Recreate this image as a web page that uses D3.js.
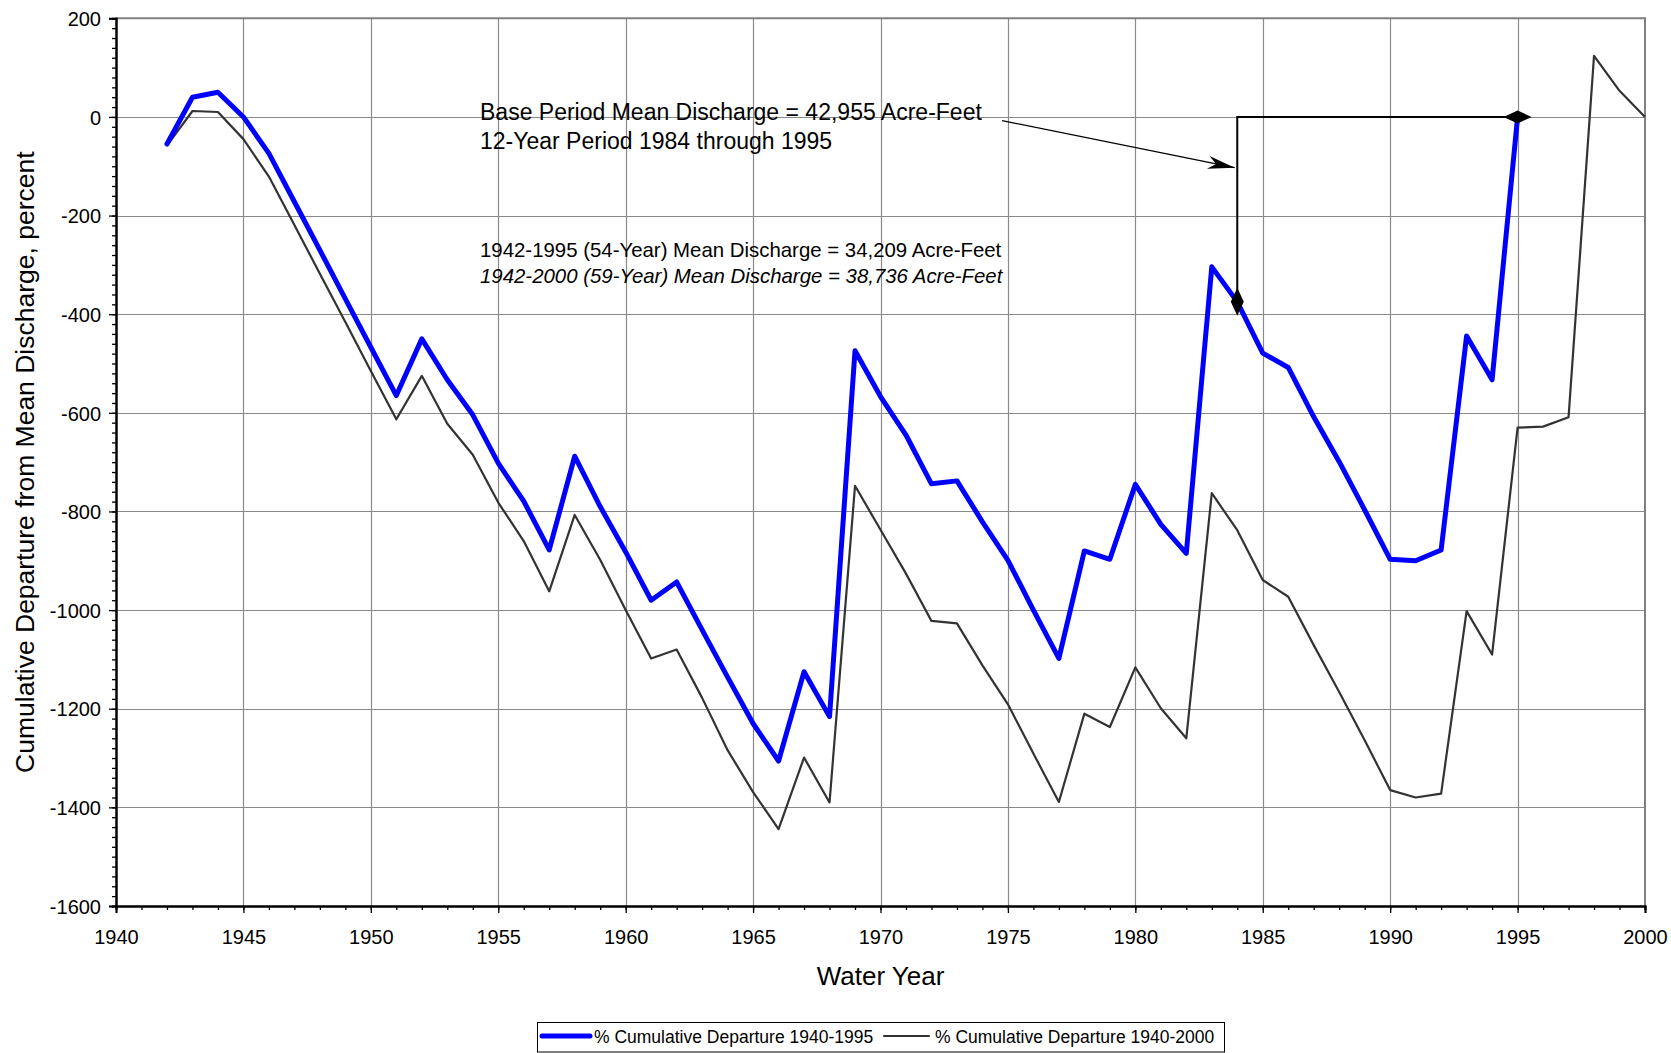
<!DOCTYPE html>
<html>
<head>
<meta charset="utf-8">
<script src="https://cdn.jsdelivr.net/npm/d3@7/dist/d3.min.js"></script>
<style>
body { margin: 0; background: #fff; }
svg { display: block; font-family: "Liberation Sans", Arial, sans-serif; }
</style>
</head>
<body>
<div id="chart"></div>
<script>
var outerWidth = 1671;
var outerHeight = 1053;

// water years and % cumulative departure
var yearsBase = [1942, 1943, 1944, 1945, 1946, 1947, 1948, 1949, 1950, 1951, 1952, 1953, 1954, 1955, 1956, 1957, 1958, 1959,
	1960, 1961, 1962, 1963, 1964, 1965, 1966, 1967, 1968, 1969, 1970, 1971, 1972, 1973, 1974, 1975, 1976, 1977, 1978, 1979,
	1980, 1981, 1982, 1983, 1984, 1985, 1986, 1987, 1988, 1989, 1990, 1991, 1992, 1993, 1994, 1995];
var departure1995 = [-55, 40, 50, 0, -74, -172, -270, -369, -467, -565, -450, -533, -604, -702, -779, -878, -688, -790,
	-882, -980, -943, -1040, -1136, -1230, -1306, -1125, -1216, -474, -567, -645, -744, -738, -821, -899, -1000, -1098, -880, -897,
	-745, -826, -885, -304, -375, -479, -508, -608, -699, -797, -897, -900, -878, -444, -533, 0];

var yearsAll = [1942, 1943, 1944, 1945, 1946, 1947, 1948, 1949, 1950, 1951, 1952, 1953, 1954, 1955, 1956, 1957, 1958, 1959,
	1960, 1961, 1962, 1963, 1964, 1965, 1966, 1967, 1968, 1969, 1970, 1971, 1972, 1973, 1974, 1975, 1976, 1977, 1978, 1979,
	1980, 1981, 1982, 1983, 1984, 1985, 1986, 1987, 1988, 1989, 1990, 1991, 1992, 1993, 1994, 1995, 1996, 1997, 1998, 1999, 2000];
var departure2000 = [-58, 12, 10, -45, -121, -219, -318, -416, -515, -613, -525, -622, -685, -782, -860, -962, -807, -898,
	-1000, -1098, -1080, -1178, -1284, -1369, -1444, -1299, -1390, -748, -837, -926, -1022, -1027, -1112, -1191, -1291, -1389, -1210, -1237,
	-1116, -1199, -1260, -763, -838, -939, -973, -1071, -1166, -1264, -1365, -1380, -1372, -1002, -1090, -630, -628, -609, 124, 53, 0];

var xTickLabels = [1940, 1945, 1950, 1955, 1960, 1965, 1970, 1975, 1980, 1985, 1990, 1995, 2000];
var yTickLabels = [200, 0, -200, -400, -600, -800, -1000, -1200, -1400, -1600];

var seriesNames = ["% Cumulative Departure 1940-1995", "% Cumulative Departure 1940-2000"];

// base period bracket: 1984 up to zero, across to 1995
var bracketYears = [1984, 1984, 1995];
var bracketValues = [-375, 0, 0];
var arrowYears = [1974.77, 1983.9];
var arrowValues = [-7.5, -103];

var noteLines = [
	"Base Period Mean Discharge = 42,955 Acre-Feet",
	"12-Year Period 1984 through 1995"
];
var meanLines = [
	"1942-1995 (54-Year) Mean Discharge = 34,209 Acre-Feet",
	"1942-2000 (59-Year) Mean Discharge = 38,736 Acre-Feet"
];

var svg = d3.select("#chart").append("svg")
	.attr("width", outerWidth)
	.attr("height", outerHeight);

var x = d3.scaleLinear().domain([1940, 2000]).range([116, 1645]);
var y = d3.scaleLinear().domain([-1600, 200]).range([906, 18.3]);

var defs = svg.append("defs");
defs.append("marker")
	.attr("id", "diamond")
	.attr("markerUnits", "userSpaceOnUse")
	.attr("viewBox", "-15 -7 30 14")
	.attr("markerWidth", 30).attr("markerHeight", 14)
	.attr("refX", 0).attr("refY", 0)
	.attr("orient", "auto")
	.append("path")
	.attr("d", "M-14,0L0,-6.5L14,0L0,6.5Z")
	.attr("fill", "#000");
defs.append("marker")
	.attr("id", "stealth")
	.attr("markerUnits", "userSpaceOnUse")
	.attr("viewBox", "-28 -8 30 16")
	.attr("markerWidth", 30).attr("markerHeight", 16)
	.attr("refX", 0).attr("refY", 0)
	.attr("orient", "auto")
	.append("path")
	.attr("d", "M0,0L-27,-6.5L-19,0L-27,6.5Z")
	.attr("fill", "#000");

// grid
var grid = svg.append("g").attr("class", "grid");
grid.selectAll(".gx").data(xTickLabels.slice(1, -1)).enter().append("line")
	.attr("x1", function(d) { return Math.round(x(d)) + 0.5; })
	.attr("x2", function(d) { return Math.round(x(d)) + 0.5; })
	.attr("y1", y(200)).attr("y2", y(-1600))
	.attr("stroke", "#8a8a8a").attr("stroke-width", 1.2);
grid.selectAll(".gy").data(yTickLabels.slice(1, -1)).enter().append("line")
	.attr("x1", x(1940)).attr("x2", x(2000))
	.attr("y1", function(d) { return Math.round(y(d)) + 0.5; })
	.attr("y2", function(d) { return Math.round(y(d)) + 0.5; })
	.attr("stroke", "#8a8a8a").attr("stroke-width", 1.2);

// top and right frame
svg.append("path")
	.attr("d", "M" + x(1940) + "," + y(200) + "H" + x(2000) + "V" + y(-1600))
	.attr("fill", "none").attr("stroke", "#808080").attr("stroke-width", 2);

// axes
var plainNumber = function(d) { return String(d); };

var minorX = svg.append("g").attr("transform", "translate(0," + y(-1600) + ")")
	.call(d3.axisBottom(x).ticks(60).tickSize(4).tickFormat(""));
var majorX = svg.append("g").attr("transform", "translate(0," + y(-1600) + ")")
	.call(d3.axisBottom(x).tickValues(xTickLabels).tickSize(7).tickPadding(17).tickFormat(plainNumber));
var minorY = svg.append("g").attr("transform", "translate(" + x(1940) + ",0)")
	.call(d3.axisLeft(y).ticks(90).tickSize(4).tickFormat(""));
var majorY = svg.append("g").attr("transform", "translate(" + x(1940) + ",0)")
	.call(d3.axisLeft(y).tickValues(yTickLabels).tickSize(7).tickPadding(8).tickFormat(plainNumber));

[minorX, majorX, minorY, majorY].forEach(function(g) {
	g.select(".domain").attr("stroke", "#000").attr("stroke-width", 2);
	g.selectAll(".tick line").attr("stroke", "#000").attr("stroke-width", 1.3);
	g.selectAll("text").attr("font-family", "Liberation Sans, Arial, sans-serif")
		.attr("font-size", 20).attr("fill", "#000");
});
minorY.selectAll(".tick").filter(function(d) { return d % 20 !== 0; }).remove();
majorY.selectAll("text").attr("dy", "0.36em");

// series
var line = d3.line()
	.x(function(d) { return x(d[0]); })
	.y(function(d) { return y(d[1]); });

svg.append("path")
	.datum(d3.zip(yearsAll, departure2000))
	.attr("d", line)
	.attr("fill", "none")
	.attr("stroke", "#333333")
	.attr("stroke-width", 2.2)
	.attr("stroke-linejoin", "round");

svg.append("path")
	.datum(d3.zip(yearsBase, departure1995))
	.attr("d", line)
	.attr("fill", "none")
	.attr("stroke", "#0000ff")
	.attr("stroke-width", 5)
	.attr("stroke-linejoin", "round")
	.attr("stroke-linecap", "round");

// annotations
svg.append("path")
	.datum(d3.zip(bracketYears, bracketValues))
	.attr("d", line)
	.attr("fill", "none")
	.attr("stroke", "#000")
	.attr("stroke-width", 2)
	.attr("marker-start", "url(#diamond)")
	.attr("marker-end", "url(#diamond)");

svg.append("path")
	.datum(d3.zip(arrowYears, arrowValues))
	.attr("d", line)
	.attr("fill", "none")
	.attr("stroke", "#000")
	.attr("stroke-width", 1.3)
	.attr("marker-end", "url(#stealth)");

svg.selectAll(".note").data(noteLines).enter().append("text")
	.attr("x", 480)
	.attr("y", function(d, i) { return 120 + i * 29.3; })
	.attr("font-size", 23)
	.attr("fill", "#000")
	.text(function(d) { return d; });

svg.selectAll(".mean").data(meanLines).enter().append("text")
	.attr("x", 480)
	.attr("y", function(d, i) { return 256.7 + i * 26.6; })
	.attr("font-size", 20.4)
	.attr("font-style", function(d, i) { return i === 1 ? "italic" : "normal"; })
	.attr("fill", "#000")
	.text(function(d) { return d; });

// axis titles
svg.append("text")
	.attr("x", (x(1940) + x(2000)) / 2)
	.attr("y", 985)
	.attr("text-anchor", "middle")
	.attr("font-size", 26)
	.text("Water Year");

svg.append("text")
	.attr("transform", "translate(34," + (y(200) + y(-1600)) / 2 + ") rotate(-90)")
	.attr("text-anchor", "middle")
	.attr("font-size", 26.5)
	.text("Cumulative Departure from Mean Discharge, percent");

// legend
var legend = svg.append("g");
legend.append("rect")
	.attr("x", 537.5).attr("y", 1022.5)
	.attr("width", 687).attr("height", 29.5)
	.attr("fill", "#fff").attr("stroke", "#000").attr("stroke-width", 1);
var legendItems = [
	{ name: seriesNames[0], color: "#0000ff", width: 5, x0: 542, x1: 590, tx: 594 },
	{ name: seriesNames[1], color: "#333333", width: 2.2, x0: 884, x1: 929, tx: 935 }
];
legendItems.forEach(function(d) {
	legend.append("line")
		.attr("x1", d.x0).attr("x2", d.x1)
		.attr("y1", 1036).attr("y2", 1036)
		.attr("stroke", d.color).attr("stroke-width", d.width)
		.attr("stroke-linecap", "round");
	legend.append("text")
		.attr("x", d.tx).attr("y", 1043)
		.attr("font-size", 17.5)
		.text(d.name);
});
</script>
</body>
</html>
